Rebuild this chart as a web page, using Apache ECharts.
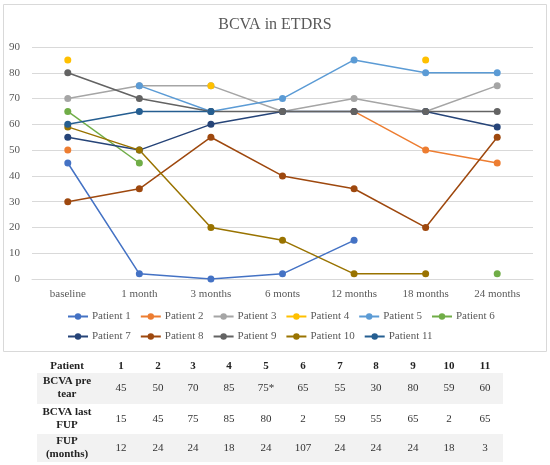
<!DOCTYPE html>
<html>
<head>
<meta charset="utf-8">
<script src="https://cdn.jsdelivr.net/npm/echarts@6/dist/echarts.min.js"></script>
<style>
  html, body { margin: 0; padding: 0; background: #fff; }
  #main { width: 550px; height: 465px; }
</style>
</head>
<body>
<div id="main"></div>
<script>
// time points on the x axis
const categories = ['baseline', '1 month', '3 months', '6 monts', '12 months', '18 months', '24 months'];
const patientNames = ['Patient 1', 'Patient 2', 'Patient 3', 'Patient 4', 'Patient 5', 'Patient 6',
  'Patient 7', 'Patient 8', 'Patient 9', 'Patient 10', 'Patient 11'];
const colors = ['#4472C4', '#ED7D31', '#A5A5A5', '#FFC000', '#5B9BD5', '#70AD47',
  '#264478', '#9E480E', '#636363', '#997300', '#255E91'];

// BCVA per patient, null = no visit
const p1 = [45, 2, 0, 2, 15, null, null];
const p2 = [50, null, null, null, 65, 50, 45];
const p3 = [70, 75, 75, 65, 70, 65, 75];
const p4 = [85, null, 75, null, null, 85, null];
const p5 = [null, 75, 65, 70, 85, 80, 80];
const p6 = [65, 45, null, null, null, null, 2];
const p7 = [55, 50, 60, 65, 65, 65, 59];
const p8 = [30, 35, 55, 40, 35, 20, 55];
const p9 = [80, 70, 65, 65, 65, 65, 65];
const p10 = [59, 50, 20, 15, 2, 2, null];
const p11 = [60, 65, 65, null, null, null, null];
const allSeries = [p1, p2, p3, p4, p5, p6, p7, p8, p9, p10, p11];

// table below the chart
const tableHead = ['Patient', '1', '2', '3', '4', '5', '6', '7', '8', '9', '10', '11'];
const rowLabels = ['BCVA pre\ntear', 'BCVA last\nFUP', 'FUP\n(months)'];
const preTear = ['45', '50', '70', '85', '75*', '65', '55', '30', '80', '59', '60'];
const lastFup = ['15', '45', '75', '85', '80', '2', '59', '55', '65', '2', '65'];
const fupMonths = ['12', '24', '24', '18', '24', '107', '24', '24', '24', '18', '3'];
const tableRows = [preTear, lastFup, fupMonths];

const FONT = '"Liberation Serif", "DejaVu Serif", serif';
const colX = [67, 121, 158, 193, 229, 266, 303, 340, 376, 413, 449, 485];
const rowY = [388, 419, 448];
const rowBand = [[373, 31], [404, 30], [434, 28]];

var graphics = [];
// chart frame
graphics.push({ type: 'rect', shape: { x: 3.5, y: 4.5, width: 543, height: 347 },
  style: { fill: 'none', stroke: '#D9D9D9', lineWidth: 1 }, silent: true });
// shaded rows
[0, 2].forEach(function (i) {
  graphics.push({ type: 'rect', shape: { x: 37, y: rowBand[i][0], width: 466, height: rowBand[i][1] },
    style: { fill: '#F2F2F2' }, silent: true });
});
tableHead.forEach(function (t, j) {
  graphics.push({ type: 'text', x: colX[j], y: 366,
    style: { text: t, font: 'bold 11px ' + FONT, fill: '#222', align: 'center', verticalAlign: 'middle' } });
});
rowLabels.forEach(function (t, i) {
  graphics.push({ type: 'text', x: colX[0], y: rowY[i],
    style: { text: t, font: 'bold 11px ' + FONT, fill: '#222', align: 'center', verticalAlign: 'middle', lineHeight: 13 } });
  tableRows[i].forEach(function (v, j) {
    graphics.push({ type: 'text', x: colX[j + 1], y: rowY[i],
      style: { text: v, font: '11px ' + FONT, fill: '#333', align: 'center', verticalAlign: 'middle' } });
  });
});

const legendText = { fontFamily: FONT, fontSize: 11, color: '#595959', padding: [0, 0, 0, -1] };

var myChart = echarts.init(document.getElementById('main'), null, { renderer: 'canvas' });
myChart.setOption({
  animation: false,
  color: colors,
  textStyle: { fontFamily: FONT },
  title: {
    text: 'BCVA in ETDRS', left: 'center', top: 12,
    textStyle: { fontFamily: FONT, fontSize: 16, fontWeight: 'normal', color: '#595959' }
  },
  legend: [
    { data: patientNames.slice(0, 6), left: 67, top: 311, padding: 0, itemWidth: 20, itemHeight: 8, itemGap: 9,
      textStyle: legendText },
    { data: patientNames.slice(6), left: 67, top: 331, padding: 0, itemWidth: 20, itemHeight: 8, itemGap: 9,
      textStyle: legendText }
  ],
  grid: { left: 32, right: 17, top: 47, bottom: 186 },
  xAxis: {
    type: 'category', data: categories, boundaryGap: true,
    axisLine: { lineStyle: { color: '#D9D9D9' } },
    axisTick: { show: false },
    axisLabel: { fontFamily: FONT, fontSize: 11, color: '#595959', margin: 10 }
  },
  yAxis: {
    type: 'value', min: 0, max: 90, interval: 10,
    axisLine: { show: false }, axisTick: { show: false },
    axisLabel: { fontFamily: FONT, fontSize: 11, color: '#595959', margin: 12 },
    splitLine: { lineStyle: { color: '#D9D9D9' } }
  },
  series: allSeries.map(function (d, i) {
    return {
      name: patientNames[i], type: 'line', data: d,
      symbol: 'circle', symbolSize: 7, showAllSymbol: true,
      lineStyle: { width: 1.5 },
      connectNulls: false
    };
  }),
  graphic: graphics
});
</script>
</body>
</html>
